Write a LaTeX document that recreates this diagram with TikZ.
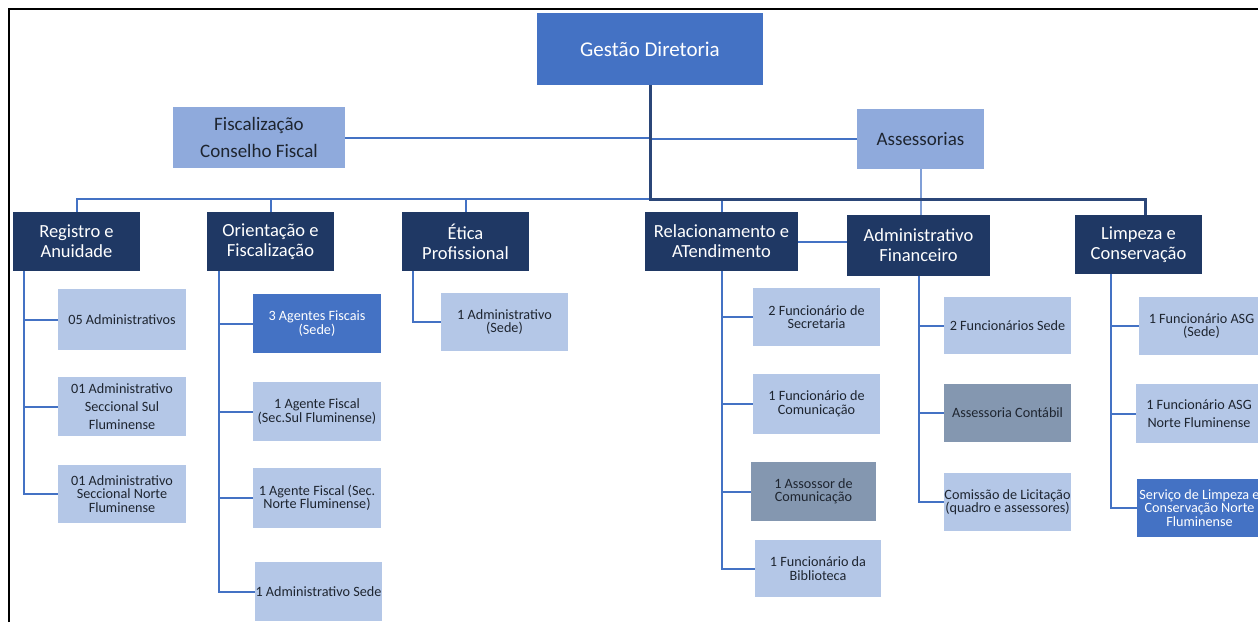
\documentclass[tikz,border=0pt]{standalone}
\usepackage{fontspec}
\setmainfont{Carlito}
\definecolor{gdblue}{HTML}{4472C4}
\definecolor{fiscblue}{HTML}{8FAADC}
\definecolor{navy}{HTML}{1F3864}
\definecolor{lightb}{HTML}{B4C7E7}
\definecolor{greyb}{HTML}{8497B0}
\definecolor{txtdark}{HTML}{1E2530}
\definecolor{darkline}{HTML}{2B4678}
\tikzset{
  box/.style={rectangle, inner sep=0pt, align=center, anchor=center},
  topbox/.style={box, fill=gdblue, text=white, font=\fontsize{21}{24}\selectfont},
  fiscbox/.style={box, fill=fiscblue, text=txtdark, font=\fontsize{19}{27}\selectfont},
  lvlbox/.style={box, fill=navy, text=white, font=\fontsize{18.5}{20}\selectfont},
  subbox/.style={box, fill=lightb, text=txtdark, font=\fontsize{14.2}{13.5}\selectfont},
  subwide/.style={subbox, font=\fontsize{14.2}{18}\selectfont},
  subblue/.style={subbox, fill=gdblue, text=white},
  subgrey/.style={subbox, fill=greyb},
  conn/.style={draw=gdblue, line width=2pt},
  connthick/.style={draw=darkline, line width=3pt},
  connlight/.style={draw=fiscblue!80!gdblue, line width=2pt},
}
\begin{document}
\begin{tikzpicture}[x=1pt,y=-1pt]
\useasboundingbox (0,0) rectangle (1258,622);
% frame
\draw[black, line width=2pt] (9,622) -- (9,9) -- (1258,9);

% top level
\node[topbox, minimum width=226pt, minimum height=72pt] (gd) at (650,49) {Gestão Diretoria};
\node[fiscbox, minimum width=172pt, minimum height=61pt] (fisc) at (259,137.5) {Fiscalização\\Conselho Fiscal};
\node[fiscbox, minimum width=127pt, minimum height=60pt] (ass) at (920.5,139) {Assessorias};
\coordinate (busc) at (650,199);

% level 1
\node[lvlbox, minimum width=127pt, minimum height=59pt] (reg) at (76.5,241.5) {Registro e\\Anuidade};
\node[lvlbox, minimum width=127pt, minimum height=59pt] (ori) at (270.5,241.5) {Orientação e\\Fiscalização};
\node[lvlbox, minimum width=127pt, minimum height=59pt] (eti) at (465.5,241.5) {Ética\\Profissional};
\node[lvlbox, minimum width=153pt, minimum height=59pt] (rel) at (721.5,241.5) {Relacionamento e\\ATendimento};
\node[lvlbox, minimum width=143pt, minimum height=61pt] (adm) at (918.5,245.5) {Administrativo\\Financeiro};
\node[lvlbox, minimum width=127pt, minimum height=59pt] (lim) at (1138.5,244.5) {Limpeza e\\Conservação};

% Registro subs
\node[subbox, minimum width=128pt, minimum height=61pt] (r1) at (122,319.5) {05 Administrativos};
\node[subwide, minimum width=128pt, minimum height=59pt] (r2) at (122,406.5) {01 Administrativo\\Seccional Sul\\Fluminense};
\node[subbox, minimum width=128pt, minimum height=58pt] (r3) at (122,494) {01 Administrativo\\Seccional Norte\\Fluminense};

% Orientação subs
\node[subblue, minimum width=128pt, minimum height=59pt] (o1) at (317,323.5) {3 Agentes Fiscais\\(Sede)};
\node[subbox, minimum width=128pt, minimum height=59pt] (o2) at (317,411.5) {1 Agente Fiscal\\(Sec.Sul Fluminense)};
\node[subbox, minimum width=128pt, minimum height=60pt] (o3) at (317,498) {1 Agente Fiscal (Sec.\\Norte Fluminense)};
\node[subbox, minimum width=127pt, minimum height=59pt] (o4) at (318.5,591.5) {1 Administrativo Sede};

% Ética sub
\node[subbox, minimum width=127pt, minimum height=58pt] (e1) at (504.5,322) {1 Administrativo\\(Sede)};

% Relacionamento subs
\node[subbox, minimum width=127pt, minimum height=58pt] (l1) at (816.5,317) {2 Funcionário de\\Secretaria};
\node[subbox, minimum width=127pt, minimum height=60pt] (l2) at (816.5,404) {1 Funcionário de\\Comunicação};
\node[subgrey, minimum width=125pt, minimum height=59pt] (l3) at (813.5,491.5) {1 Assossor de\\Comunicação};
\node[subbox, minimum width=126pt, minimum height=57pt] (l4) at (818,568.5) {1 Funcionário da\\Biblioteca};

% Administrativo subs
\node[subbox, minimum width=127pt, minimum height=57pt] (a1) at (1007.5,325.5) {2 Funcionários Sede};
\node[subgrey, minimum width=127pt, minimum height=58pt] (a2) at (1007.5,413) {Assessoria Contábil};
\node[subbox, minimum width=127pt, minimum height=58pt] (a3) at (1007.5,502) {Comissão de Licitação\\(quadro e assessores)};

% Limpeza subs
\node[subbox, minimum width=125pt, minimum height=58pt] (c1) at (1201.5,326) {1 Funcionário ASG\\(Sede)};
\node[subwide, minimum width=126pt, minimum height=59pt] (c2) at (1199,413.5) {1 Funcionário ASG\\Norte Fluminense};
\node[subblue, minimum width=125pt, minimum height=58pt] (c3) at (1199.5,508) {Serviço de Limpeza e\\Conservação Norte\\Fluminense};

% top connectors
\draw[conn] (fisc.east) -- (fisc.east -| gd.south);
\draw[conn] (ass.west) -- (ass.west -| gd.south);
\draw[connlight] (ass.south) -- (ass.south |- adm.north);
\draw[conn] (reg.north) |- (busc);
\draw[conn] (ori.north) -- (ori.north |- busc);
\draw[conn] (eti.north) -- (eti.north |- busc);
\draw[conn] (rel.north) -- (rel.north |- busc);
\draw[connthick] (gd.south) -- (busc) -| ([xshift=6.5pt]lim.north);
\draw[conn] (rel.east) -- (rel.east -| adm.west);

% Registro
\coordinate (rv) at ([xshift=11pt]reg.south west);
\foreach \c in {r1,r2,r3} \draw[conn] (rv) |- (\c.west);
% Orientação
\coordinate (ov) at ([xshift=12pt]ori.south west);
\foreach \c in {o1,o2,o3,o4} \draw[conn] (ov) |- (\c.west);
% Ética
\coordinate (ev) at ([xshift=11pt]eti.south west);
\draw[conn] (ev) |- (e1.west);
% Relacionamento
\foreach \c in {l1,l2,l3,l4} \draw[conn] (rel.south) |- (\c.west);
% Administrativo
\foreach \c in {a1,a2,a3} \draw[conn] (adm.south) |- (\c.west);
% Limpeza
\coordinate (cv) at ([xshift=36pt]lim.south west);
\foreach \c in {c1,c2,c3} \draw[conn] (cv) |- (\c.west);
\end{tikzpicture}
\end{document}
